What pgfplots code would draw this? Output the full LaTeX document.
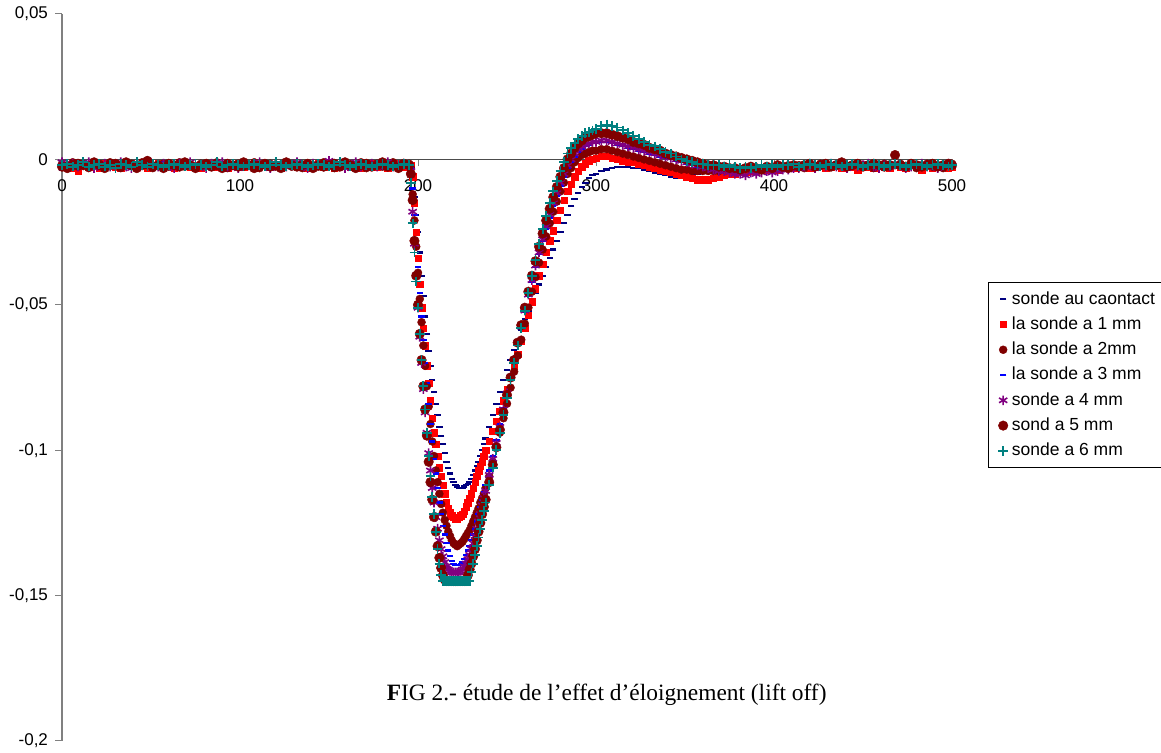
\documentclass[border=0pt]{standalone}
\usepackage{pgfplots}
\pgfplotsset{compat=1.18}
\usepackage{pgfplotstable}
\usepackage{fontspec}
\setmainfont{Liberation Sans}
\newfontfamily\capfont{Liberation Serif}

\definecolor{xlnavy}{HTML}{000080}
\definecolor{xlred}{HTML}{FF0000}
\definecolor{xldred}{HTML}{800000}
\definecolor{xlblue}{HTML}{0000FF}
\definecolor{xlpurple}{HTML}{800080}
\definecolor{xlteal}{HTML}{008080}

% values in units of 1e-3 (axis labels carry the real scale)
\pgfplotstableread{
x a b c d e f g
0 -2 -2.5 -1.5 -3.5 -1 -2.5 -2
3 -2.5 -2 -2 -2 -2 -3 -1.5
6 -1.5 -3 -1 -2.5 -1.5 -2 -2.5
9 -2 -4 -2.5 -2 -2.5 -1.5 -2
12 -3 -1.5 -2 -1 -2 -2 -1
15 -2 -2.5 -3 -2 -1 -2.5 -2.5
18 -1.5 -2 -2 -3 -3 -1 -2
21 -2.5 -3 -1.5 -1.5 -2 -2 -1.5
24 -2 -1.5 -2.5 -2 -1.5 -3 -2.5
27 -3 -2 -1 -2.5 -2.5 -2 -2
30 -2 -2.5 -2 -2 -2 -1.5 -3
33 -1.5 -3 -3 -1.5 -1 -2.5 -1.5
36 -2.5 -2 -2 -2.5 -2.5 -1 -2
39 -2 -1.5 -1.5 -2 -3 -2 -2.5
42 -3 -2.5 -2.5 -3 -1.5 -3 -1
45 -2 -2 -1 -2 -2 -2 -2
48 -1.5 -3 -2 -1.5 -0.5 -0.5 -2.5
51 -2.5 -2 -3 -2.5 -2 -2.5 -1.5
54 -2 -1.5 -2 -2 -2.5 -2 -2
57 -3 -2.5 -1.5 -1 -1.5 -3 -2.5
60 -2 -2 -2.5 -2 -2 -1.5 -2
63 -1.5 -3 -2 -2.5 -3 -2 -1.5
66 -2.5 -2 -1 -2 -1.5 -2.5 -2
69 -2 -1.5 -2.5 -3 -2 -1 -2.5
72 -3 -2.5 -2 -1.5 -1 -2 -2
75 -2 -2 -3 -2 -2.5 -3 -1.5
78 -1.5 -3 -1.5 -2.5 -2 -2 -2
81 -2.5 -2 -2 -2 -3 -1.5 -2.5
84 -2 -1.5 -2.5 -1 -1.5 -2.5 -2
87 -3 -2.5 -1 -2 -2 -2 -1
90 -2 -2 -2 -3 -1 -3 -2.5
93 -1.5 -3 -3 -2 -2.5 -1.5 -2
96 -2.5 -2 -2 -1.5 -2 -2 -1.5
99 -2 -1.5 -1.5 -2.5 -3 -2.5 -2
102 -3 -2.5 -2.5 -2 -1.5 -1 -2.5
105 -2 -2 -2 -2 -2 -2 -2
108 -1.5 -3 -1 -3 -2.5 -3 -1.5
111 -2.5 -2 -3 -1.5 -1 -2 -2
114 -2 -1.5 -2 -2 -2 -1.5 -2.5
117 -3 -2.5 -1.5 -2.5 -3 -2.5 -2
120 -2 -2 -2.5 -2 -1.5 -2 -1
123 -1.5 -3 -2 -1 -2 -3 -2
126 -2.5 -2 -1 -2 -2.5 -1 -2.5
129 -2 -1.5 -2.5 -3 -2 -2 -2
132 -3 -2.5 -2 -2 -1 -2.5 -1.5
135 -2 -2 -3 -1.5 -2 -2 -2
138 -1.5 -3 -1.5 -2.5 -3 -1.5 -2.5
141 -2.5 -2 -2 -2 -1.5 -3 -2
144 -2 -1.5 -2.5 -2 -2 -2 -1.5
147 -3 -2.5 -1 -3 -2.5 -2.5 -2
150 -2 -2 -2 -1.5 -0.5 -2 -2.5
153 -1.5 -3 -3 -2 -2 -1.5 -2
156 -2.5 -2 -2 -2.5 -1.5 -2.5 -1
159 -2 -1.5 -1.5 -2 -3 -1 -2
162 -3 -2.5 -2.5 -1 -2 -2 -2.5
165 -2 -2 -2 -2 -1 -3 -2
168 -1.5 -3 -1 -2.5 -2.5 -2 -1.5
171 -2.5 -2 -3 -2 -2 -1.5 -2
174 -2 -1.5 -2 -3 -1.5 -2.5 -2.5
177 -3 -2.5 -1.5 -1.5 -2.5 -2 -2
180 -2 -2 -2.5 -2 -2 -1 -1.5
183 -1.5 -3 -2 -2.5 -1 -2.5 -2
186 -2.5 -2 -1 -2 -2.5 -2 -2.5
189 -2 -1.5 -2.5 -1.5 -2 -3 -2
192 -3 -2.5 -2 -2 -1.5 -1.5 -1.5
195 -2 -2 -1.5 -2 -2 -2 -2
196 -2 -2 -3 -3 -4 -5 -8
197 -6 -6 -12 -10 -18 -14 -22
198 -13 -15 -21 -19 -29 -28 -32
199 -19 -25 -30 -28 -40 -40 -42
200 -25 -34 -39 -37 -51 -50 -51
201 -32 -43 -48 -46 -61 -60 -60
202 -40 -51 -56 -54 -70 -69 -69
203 -47 -58 -64 -62 -79 -78 -78
204 -54 -64 -71 -70 -87 -86 -86
205 -60 -71 -78 -77 -94 -95 -94
206 -66 -77 -85 -84 -101 -104 -102
207 -71 -83 -91 -91 -107 -111 -109
208 -76 -89 -97 -97 -113 -117 -116
209 -80 -94 -102 -103 -118 -123 -122
210 -84 -98 -107 -108 -123 -128 -128
211 -88 -102 -111 -113 -127 -133 -134
212 -92 -106 -115 -118 -131 -137 -139
213 -95 -109 -118.5 -122 -134 -140.5 -143
214 -98 -112 -121.5 -126 -136.5 -143 -145
215 -101 -115 -124 -129 -138.5 -144.5 -145
216 -104 -118 -126 -132 -140 -145 -145
217 -106 -120 -128 -134.5 -141 -145 -145
218 -108 -121.5 -129.5 -136.5 -141.5 -145 -145
219 -110 -122.5 -131 -138 -142 -145 -145
220 -111 -123 -132 -139 -142 -145 -145
221 -112 -123.5 -132.5 -139.5 -142 -145 -145
222 -112.5 -123.5 -133 -139.5 -142 -145 -145
223 -113 -123 -132.5 -139.5 -142 -145 -145
224 -113 -122.5 -132 -139 -141.5 -145 -145
225 -113 -122 -131.5 -138.5 -141 -145 -145
226 -112.5 -121 -130.5 -137.5 -140 -145 -145
227 -112 -119.5 -129.5 -136 -139 -145 -145
228 -111.5 -118 -128.5 -134.5 -137.5 -143 -145
229 -111 -116.5 -127.5 -133 -136 -141 -145
230 -110 -115 -126 -131 -134 -139 -142
231 -108.5 -113 -124.5 -129 -132 -136.5 -139
232 -107 -111 -123 -127 -129.5 -134 -136
233 -105.5 -109 -121.5 -124.5 -127 -131 -133
234 -104 -107 -120 -122 -124.5 -128 -130
235 -102 -105.5 -118 -119.5 -122 -125 -127
236 -100 -104 -116.5 -117 -119 -122 -124
237 -98 -102 -115 -114.5 -116.5 -119.5 -121
238 -96 -100 -113 -112 -114 -117 -118
240 -92 -97 -109 -107 -108.5 -111 -112
242 -88 -93.5 -104 -102 -103 -105 -106
244 -84 -90 -99 -96.5 -97.5 -99 -100
246 -80 -86.5 -94 -91 -92 -93 -94
248 -76 -83 -89 -85.5 -86 -87 -88
250 -72.5 -79 -84 -80 -80.5 -81 -82
252 -69 -75 -78.5 -74.5 -75 -75 -76
254 -65.5 -71 -73 -69 -69 -69 -70
256 -62 -67 -67.5 -63.5 -63 -63 -64
258 -58.5 -62.5 -62 -58 -57.5 -57 -58
260 -55 -58 -56.5 -52.5 -52 -51 -52
262 -52 -53.5 -51 -47 -46.5 -45.5 -46
264 -49 -49 -45.5 -42 -41.5 -40 -40
266 -46 -44.5 -40.5 -37 -36.5 -35 -34.5
268 -43 -40 -35.5 -32.5 -32 -30 -29
270 -40 -36 -31 -28 -27.5 -25.5 -24
272 -37 -32 -26.5 -24 -23 -21 -19.5
274 -34 -28 -22 -20 -19 -17 -15
276 -31 -24.5 -18 -16 -15 -13 -11
278 -28 -21 -14.5 -12.5 -11.5 -9.5 -7.5
280 -25 -17.5 -11 -9 -8 -6 -4
282 -22 -14 -8 -6 -5 -3 -1
284 -19 -11 -5 -3 -2 0 2
286 -16 -8.5 -3 -1 0 2 4
288 -13.5 -6 -1 1 2 4 5.5
290 -11.5 -4 0.5 2.5 3.5 5.5 7
292 -9.5 -2.5 1.5 3.5 4.5 6.5 8
294 -8 -1.5 2 4.5 5 7.5 9
296 -6.5 -0.5 2.5 5 5.5 8 9.5
298 -5.5 0 3 5.5 6 8.5 10
300 -5 0.5 3 5.5 6 9 10.5
303 -4 1 3.5 6 6.5 9 11.5
306 -3.5 1 3.5 6 6.5 9 12
309 -3 0.5 3 5.5 6 8.5 11.5
312 -2.5 0 2.5 5 5.5 8 11
315 -2.5 -0.5 2 4.5 5 7.5 10
318 -2.5 -1 1.5 4 4.5 7 9
321 -3 -1 1 3.5 4 6 8
324 -3 -1.5 0.5 3 3.5 5.5 7
327 -3.5 -2 0 2.5 3 5 6
330 -4 -2.5 -0.5 2 2.5 4 5
333 -4.5 -3 -1 1.5 2 3.5 4.5
336 -5 -3.5 -1.5 1 1.5 3 3.5
339 -5.5 -4 -2 0.5 1 2 2.5
342 -6 -4.5 -2.5 0 0.5 1.5 2
345 -6.5 -5 -3 -0.5 0 1 1
348 -6 -5.5 -3.5 -1 -0.5 0.5 0
351 -5.5 -6 -3.5 -1.5 -1 0 -0.5
354 -5 -6.5 -4 -2 -1.5 -0.5 -1
357 -5 -7 -4 -2.5 -2 -1 -1.5
360 -4.5 -7 -4 -3 -2.5 -1.5 -1.5
363 -4.5 -7 -4 -3 -3 -2 -2
366 -4 -6.5 -4 -3.5 -3.5 -2 -2
369 -4 -6 -4 -3.5 -4 -2.5 -2
372 -4 -5.5 -3.5 -3.5 -4 -2.5 -2.5
375 -3.5 -5 -3.5 -3.5 -4.5 -3 -2
378 -3.5 -5 -3.5 -4 -5 -3 -2.5
381 -3 -4.5 -4 -3.5 -5 -3.5 -3
384 -3.5 -4.5 -3 -4 -5.5 -3 -2.5
387 -3 -4 -3.5 -3.5 -4.5 -2.5 -3
390 -2.5 -4 -3 -4 -5 -3 -2.5
393 -3 -3.5 -3.5 -3 -4.5 -3.5 -2
396 -2.5 -3.5 -2.5 -3.5 -4 -2.5 -2.5
399 -3 -3 -3 -3 -4.5 -3 -2
402 -2 -3.5 -2.5 -2.5 -4 -2 -2.5
405 -2.5 -3 -3 -3 -3.5 -2.5 -2
408 -2 -2.5 -2 -2.5 -3.5 -3 -2
411 -2.5 -3 -2.5 -2 -3 -2 -1.5
414 -2 -2.5 -2 -3 -3 -2.5 -2.5
417 -3 -2 -3 -2 -2.5 -2 -2
420 -2 -3 -2 -2.5 -2 -1.5 -1.5
423 -1.5 -2.5 -2.5 -2 -3 -2.5 -2
426 -2.5 -2 -1.5 -1.5 -2 -2 -2.5
429 -2 -3 -2 -2.5 -2.5 -1.5 -2
432 -2.5 -2.5 -2.5 -2 -1.5 -2.5 -1.5
435 -2 -2 -2 -3 -2.5 -2 -2
438 -1.5 -3 -1.5 -2 -2 -1 -2.5
441 -2.5 -2 -2.5 -1.5 -3 -2.5 -2
444 -2 -2.5 -2 -2.5 -2 -2 -1.5
447 -3 -3.5 -1.5 -2 -2.5 -1.5 -2
450 -2 -2 -2.5 -3 -2 -2.5 -2.5
453 -1.5 -2.5 -2 -2 -1.5 -2 -2
456 -2.5 -3 -3 -1.5 -2.5 -1.5 -1.5
459 -2 -2 -2 -2.5 -3 -2 -2
462 -2.5 -2.5 -1.5 -2 -2 -2.5 -2.5
465 -2 -3 -2.5 -3 -2.5 -2 -2
468 -1.5 -2 -2 -2 -1.5 1.5 -1.5
471 -2.5 -2.5 -1.5 -1.5 -2 -2 -2
474 -2 -3 -2.5 -2.5 -3 -2.5 -2.5
477 -3 -2 -2 -2 -2.5 -1.5 -2
480 -2 -2.5 -3 -3 -2 -2 -1.5
483 -1.5 -3.5 -2 -2 -1.5 -2.5 -2
486 -2.5 -2 -1.5 -2.5 -2.5 -2 -2.5
489 -2 -3 -2.5 -1.5 -2 -1.5 -2
492 -2.5 -2.5 -2 -2 -3 -2.5 -1.5
495 -2 -2 -3 -2.5 -2 -2 -2
498 -1.5 -3 -2 -2 -1.5 -1.5 -2.5
500 -2 -2.5 -1.5 -2.5 -2 -2 -2
}\lift

\begin{document}
\begin{tikzpicture}
\path[use as bounding box] (-31pt,-6pt) rectangle (549.5pt,370.5pt);
\begin{axis}[
  scale only axis, width=445pt, height=363.5pt,
  xmin=0, xmax=500, ymin=-200, ymax=50,
  axis x line=middle, axis y line=left,
  axis line style={-},
  every inner x axis line/.append style={-, draw=black!70, line width=0.5pt},
  every outer y axis line/.append style={-, draw=black!50, line width=0.6pt},
  hide obscured x ticks=false,
  tick align=outside,
  major tick length=3.5pt,
  tick style={draw=black!50, line width=0.5pt},
  xtick={0,100,200,300,400,500},
  xticklabels={0,100,200,300,400,500},
  ytick={-200,-150,-100,-50,0,50},
  yticklabels={{-0,2},{-0,15},{-0,1},{-0,05},{0},{0,05}},
  ticklabel style={font=\fontsize{8.5}{10}\selectfont},
  xticklabel style={yshift=-3pt},
  clip=false,
  legend cell align=left,
  legend image code/.code={\path[draw=none,fill=none] (0cm,-0.05cm) rectangle (0.25cm,0.05cm); \draw[#1] plot coordinates {(0.19cm,0cm)};},
  legend style={at={(1.0404,0.6314)}, anchor=north west, draw=black,
    font=\fontsize{8.75}{10}\selectfont, row sep=0.8pt, inner xsep=2pt, inner ysep=2.5pt},
]
\addplot[only marks, mark=-, mark size=1.6pt, line width=1.1pt, color=xlnavy] table[x=x,y=a]{\lift};
\addplot[only marks, mark=square*, mark size=1.6pt, line width=0.2pt, color=xlred] table[x=x,y=b]{\lift};
\addplot[only marks, mark=*, mark size=2pt, line width=0.2pt, color=xldred] table[x=x,y=c]{\lift};
\addplot[only marks, mark=-, mark size=1.6pt, line width=1.1pt, color=xlblue] table[x=x,y=d]{\lift};
\addplot[only marks, mark=asterisk, mark size=2.4pt, line width=0.8pt, color=xlpurple] table[x=x,y=e]{\lift};
\addplot[only marks, mark=*, mark size=2.4pt, line width=0.2pt, color=xldred] table[x=x,y=f]{\lift};
\addplot[only marks, mark=+, mark size=2.4pt, line width=0.9pt, color=xlteal] table[x=x,y=g]{\lift};
\legend{sonde au caontact, la sonde a 1 mm, la sonde a 2mm, la sonde a 3 mm, sonde a 4 mm, sond a 5 mm, sonde a 6 mm}
\node[font=\capfont\fontsize{11.7}{14}\selectfont] at (rel axis cs:0.612,0.063) {\textbf{F}IG 2.- étude de l’effet d’éloignement (lift off)};
\end{axis}
\end{tikzpicture}
\end{document}
